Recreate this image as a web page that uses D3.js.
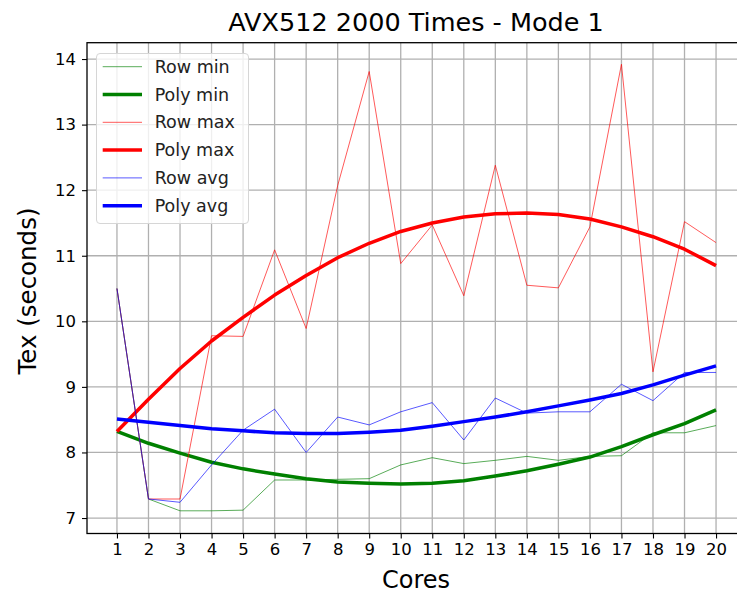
<!DOCTYPE html>
<html lang="en">
<head>
  <meta charset="UTF-8" />
  <title>AVX512 2000 Times - Mode 1</title>
  <script src="https://d3js.org/d3.v7.min.js"></script>
  <style>
    body { margin: 0; background: #fff; }
    svg { display: block; font-family: "DejaVu Sans", sans-serif; }
    .grid line { stroke: #b0b0b0; stroke-width: 1.3px; }
    .tick text { fill: #000; }
  </style>
</head>
<body>
  <svg width="737" height="594"></svg>
  <script>
    // data
    const cores = [1, 2, 3, 4, 5, 6, 7, 8, 9, 10, 11, 12, 13, 14, 15, 16, 17, 18, 19, 20];
    const rowMin  = [10.5, 7.29, 7.11, 7.11, 7.12, 7.58, 7.58, 7.59, 7.60, 7.81, 7.92, 7.83, 7.88, 7.94, 7.88, 7.94, 7.95, 8.30, 8.30, 8.41];
    const polyMin = [8.32, 8.14, 7.99, 7.85, 7.75, 7.67, 7.60, 7.55, 7.53, 7.52, 7.53, 7.57, 7.64, 7.72, 7.82, 7.93, 8.09, 8.27, 8.44, 8.65];
    const rowMax  = [10.5, 7.29, 7.29, 9.78, 9.77, 11.09, 9.89, 12.07, 13.81, 10.88, 11.47, 10.39, 12.38, 10.55, 10.51, 11.44, 13.92, 9.23, 11.52, 11.20];
    const polyMax = [8.32, 8.81, 9.28, 9.70, 10.06, 10.40, 10.70, 10.97, 11.19, 11.37, 11.50, 11.59, 11.64, 11.65, 11.63, 11.56, 11.44, 11.29, 11.10, 10.85];
    const rowAvg  = [10.5, 7.29, 7.24, 7.81, 8.34, 8.66, 8.00, 8.54, 8.42, 8.62, 8.76, 8.19, 8.83, 8.60, 8.62, 8.62, 9.04, 8.79, 9.22, 9.22];
    const polyAvg = [8.51, 8.46, 8.41, 8.36, 8.33, 8.30, 8.29, 8.29, 8.31, 8.34, 8.40, 8.47, 8.54, 8.62, 8.71, 8.80, 8.90, 9.03, 9.18, 9.32];
    const yTicks = [7, 8, 9, 10, 11, 12, 13, 14];

    const series = [
      { name: "Row min",  values: rowMin,  color: "green", width: 1,   opacity: 0.65 },
      { name: "Poly min", values: polyMin, color: "green", width: 3.5, opacity: 1 },
      { name: "Row max",  values: rowMax,  color: "red",   width: 1,   opacity: 0.65 },
      { name: "Poly max", values: polyMax, color: "red",   width: 3.5, opacity: 1 },
      { name: "Row avg",  values: rowAvg,  color: "blue",  width: 1,   opacity: 0.65 },
      { name: "Poly avg", values: polyAvg, color: "blue",  width: 3.5, opacity: 1 }
    ];

    const svg = d3.select("svg");
    const pLeft = 87, pRight = 746, pTop = 42.7, pBottom = 533.5;

    const x = d3.scaleLinear().domain([0.05, 20.95]).range([pLeft, pRight]);
    const y = d3.scaleLinear().domain([6.764, 14.249]).range([pBottom, pTop]);

    // grid
    const grid = svg.append("g").attr("class", "grid");
    grid.selectAll(".gx").data(cores).join("line")
      .attr("x1", d => x(d)).attr("x2", d => x(d))
      .attr("y1", pTop).attr("y2", pBottom);
    grid.selectAll(".gy").data(yTicks).join("line")
      .attr("x1", pLeft).attr("x2", pRight)
      .attr("y1", d => y(d)).attr("y2", d => y(d));

    // axes
    const xAxis = svg.append("g")
      .attr("transform", `translate(0,${pBottom})`)
      .call(d3.axisBottom(x).tickValues(cores).tickFormat(d3.format("d")).tickSize(5).tickPadding(5));
    const yAxis = svg.append("g")
      .attr("transform", `translate(${pLeft},0)`)
      .call(d3.axisLeft(y).tickValues(yTicks).tickFormat(d3.format("d")).tickSize(5).tickPadding(6));
    [xAxis, yAxis].forEach(a => {
      a.select(".domain").remove();
      a.selectAll(".tick line").attr("stroke", "#000").attr("stroke-width", 1.1);
      a.selectAll(".tick text").attr("font-size", 16.5).attr("font-family", "DejaVu Sans");
    });

    // lines
    svg.append("clipPath").attr("id", "plot")
      .append("rect").attr("x", pLeft).attr("y", pTop)
      .attr("width", pRight - pLeft).attr("height", pBottom - pTop);

    const line = d3.line().x((d, i) => x(cores[i])).y(d => y(d));
    svg.append("g").attr("clip-path", "url(#plot)")
      .selectAll("path").data(series).join("path")
      .attr("d", d => line(d.values))
      .attr("fill", "none")
      .attr("stroke", d => d.color)
      .attr("stroke-width", d => d.width)
      .attr("stroke-opacity", d => d.opacity)
      .attr("stroke-linejoin", "round")
      .attr("stroke-linecap", "butt");

    // spines
    svg.append("rect")
      .attr("x", pLeft).attr("y", pTop)
      .attr("width", pRight - pLeft).attr("height", pBottom - pTop)
      .attr("fill", "none").attr("stroke", "#000").attr("stroke-width", 1.3);

    // legend
    const lg = svg.append("g");
    lg.append("rect")
      .attr("x", 96.5).attr("y", 53.5).attr("width", 152).attr("height", 170)
      .attr("rx", 3.5)
      .attr("fill", "#fff").attr("fill-opacity", 0.8)
      .attr("stroke", "#d6d6d6").attr("stroke-width", 1);
    const item = lg.selectAll(".item").data(series).join("g")
      .attr("transform", (d, i) => `translate(0,${66.7 + i * 27.8})`);
    item.append("line")
      .attr("x1", 102.7).attr("x2", 142)
      .attr("stroke", d => d.color)
      .attr("stroke-width", d => d.width)
      .attr("stroke-opacity", d => d.opacity);
    item.append("text")
      .attr("x", 154.7).attr("y", 6)
      .attr("font-size", 17.5)
      .attr("fill", "#222")
      .text(d => d.name);

    // title and labels
    svg.append("text")
      .attr("x", 416).attr("y", 30.5)
      .attr("text-anchor", "middle")
      .attr("font-size", 25.5)
      .text("AVX512 2000 Times - Mode 1");
    svg.append("text")
      .attr("x", 416).attr("y", 587.5)
      .attr("text-anchor", "middle")
      .attr("font-size", 24)
      .text("Cores");
    svg.append("text")
      .attr("transform", "translate(36,291) rotate(-90)")
      .attr("text-anchor", "middle")
      .attr("font-size", 24.5)
      .text("Tex (seconds)");
  </script>
</body>
</html>
